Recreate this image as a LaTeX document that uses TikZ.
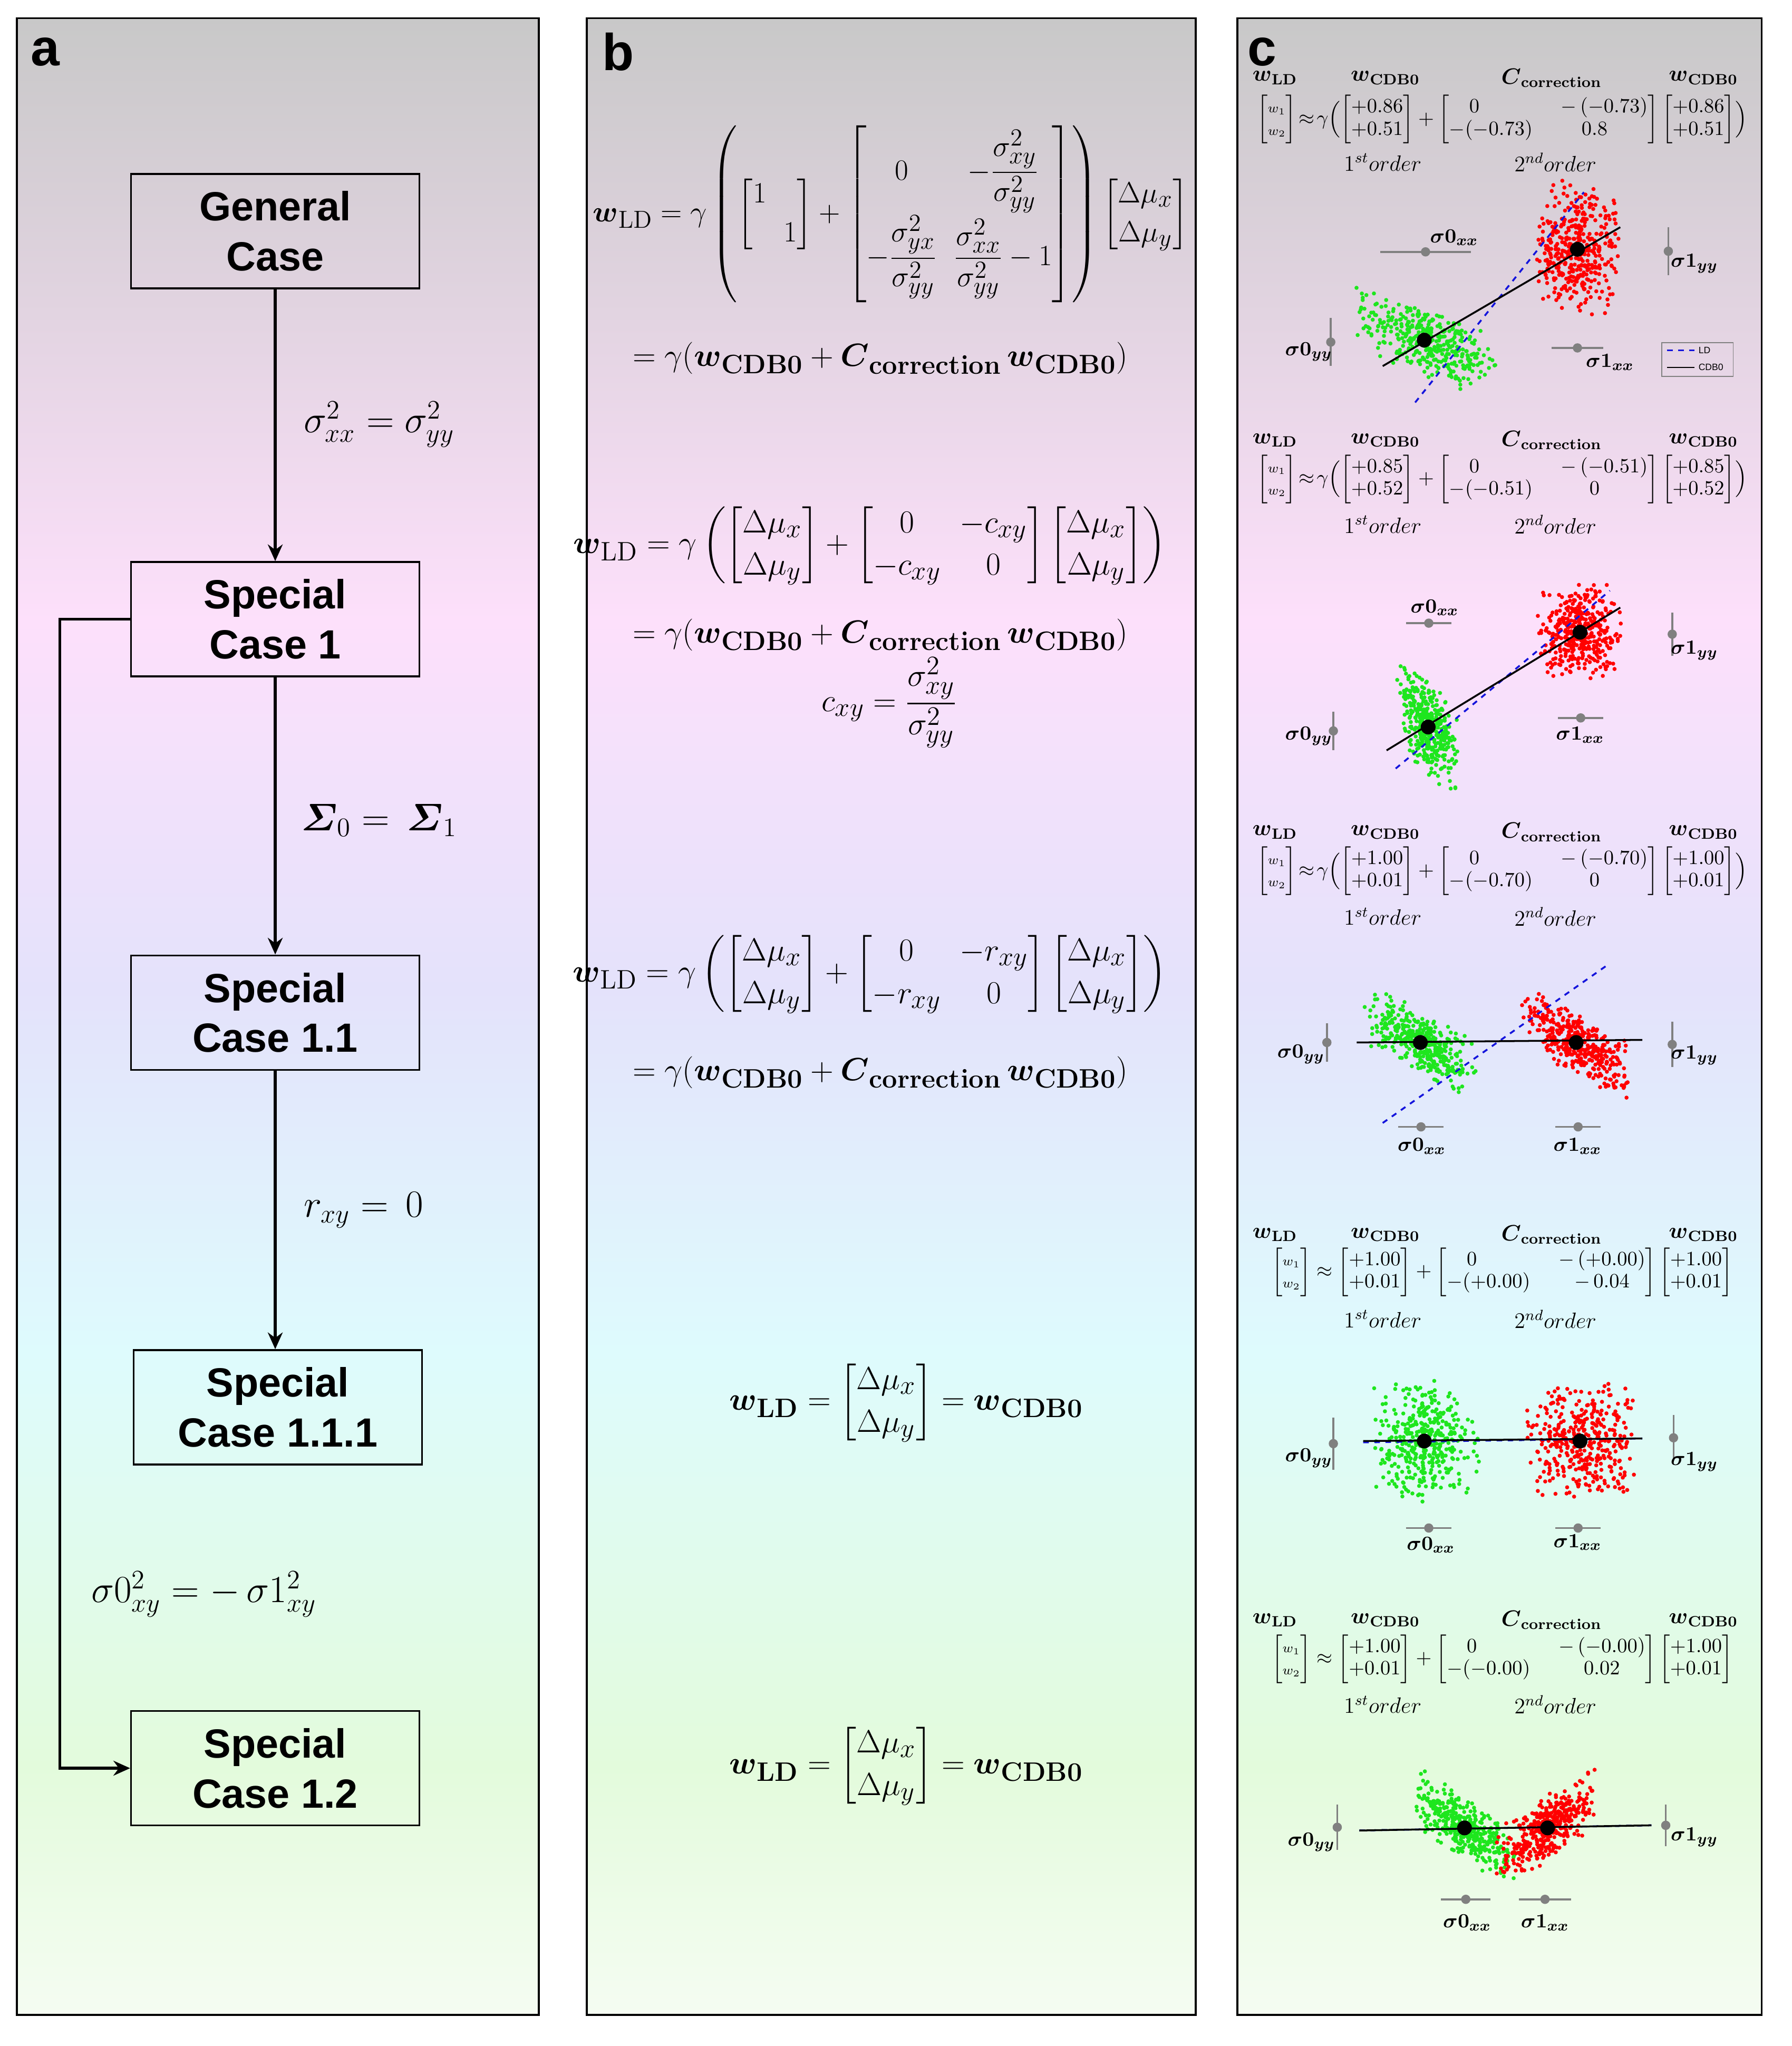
\documentclass[tikz,border=0pt]{standalone}
\usepackage{amsmath}
\usepackage[no-math]{fontspec}
\setmainfont{Liberation Sans}
\usetikzlibrary{positioning}
\usetikzlibrary{arrows.meta}

\definecolor{bgbot}{HTML}{F5FCF2}
\definecolor{bggreen}{HTML}{E3FBDC}
\definecolor{bgcyan}{HTML}{DEFBFD}
\definecolor{bglav}{HTML}{E4E2FB}
\definecolor{bgpink}{HTML}{FDE0FB}
\definecolor{bgtop}{HTML}{C8C8C8}
\definecolor{ptgreen}{RGB}{30,230,30}
\definecolor{ldblue}{RGB}{20,20,220}
\pgfdeclareverticalshading{panelbg}{100bp}{color(0bp)=(bgbot); color(25bp)=(bgbot); color(31.2bp)=(bggreen); color(41.6bp)=(bgcyan); color(50.7bp)=(bglav); color(59.9bp)=(bgpink); color(75bp)=(bgtop); color(100bp)=(bgtop)}

\tikzset{
  panel/.style={draw, line width=1pt, shading=panelbg},
  box/.style={draw, line width=1pt, minimum width=5.47cm, minimum height=2.17cm, align=center, font=\bfseries\fontsize{22}{27}\selectfont},
  arrow/.style={line width=1.5pt, -{Stealth[length=9pt,width=8pt]}},
  plab/.style={font=\bfseries\fontsize{28}{32}\selectfont},
  cond/.style={font=\fontsize{22}{26}\selectfont},
  eqb/.style={font=\fontsize{19}{23}\selectfont},
  eqc/.style={font=\fontsize{10.5}{12}\selectfont, inner sep=0pt},
  hdr/.style={font=\fontsize{12}{14}\selectfont, inner sep=0pt},
  slab/.style={font=\fontsize{11}{13}\selectfont, inner sep=0pt},
  errbar/.style={gray, line width=1pt},
}

% x y sx sy rho colour n
\newcommand\cluster[7]{%
  \foreach \i in {1,...,#7}{%
    \pgfmathsetmacro\ua{rand+rand}%
    \pgfmathsetmacro\va{rand+rand}%
    \fill[#6] ({#1+#3*\ua},{#2+#4*((#5)*\ua+sqrt(1-(#5)*(#5))*\va)}) circle[radius=1.1pt];
  }}
\newcommand\errh[3]{\draw[errbar] (#1,#3) -- (#2,#3); \fill[gray] ({(#1+#2)/2},#3) circle[radius=2.5pt];}
\newcommand\errv[3]{\draw[errbar] (#1,#2) -- (#1,#3); \fill[gray] (#1,{(#2+#3)/2}) circle[radius=2.5pt];}
\newcommand\headers[1]{%
  \node[hdr] at (982,#1-2) {$\boldsymbol{w}_{\mathbf{LD}}$};
  \node[hdr] at (1067,#1-2) {$\boldsymbol{w}_{\mathbf{CDB0}}$};
  \node[hdr] at (1195,#1-2) {$\boldsymbol{C}_{\mathbf{correction}}$};
  \node[hdr] at (1312,#1-2) {$\boldsymbol{w}_{\mathbf{CDB0}}$};
  \node[hdr] at (1065,#1+63) {$1^{st}order$};
  \node[hdr] at (1198,#1+63) {$2^{nd}order$};}

\begin{document}
\begin{tikzpicture}[x=0.02463cm, y=-0.02463cm]
\pgfmathsetseed{7}
\useasboundingbox (0,0) rectangle (1380,1576);

% panels
\path[panel] (13,14) rectangle (415,1552);
\path[panel] (452,14) rectangle (921,1552);
\path[panel] (953,14) rectangle (1357,1552);
\node[plab] (la) at (35,40) {a};
\node[plab] (lb) at (476,40) {b};
\node[plab] (lc) at (972,40) {c};

% panel a
\node[box] (gen) at (212,178) {General\\Case};
\node[box] (sc1) at (212,477) {Special\\Case 1};
\node[box] (sc11) at (212,780) {Special\\Case 1.1};
\node[box] (sc111) at (214,1084) {Special\\Case 1.1.1};
\node[box] (sc12) at (212,1362) {Special\\Case 1.2};
\draw[arrow] (gen) -- (sc1);
\draw[arrow] (sc1) -- (sc11);
\draw[arrow] (sc11) -- (sc111.north -| sc11.south);
\draw[arrow] (sc1.west) -- ++(-54,0) |- (sc12.west);
\node[cond] (c1) at (292,327) {$\sigma_{xx}^2=\sigma_{yy}^2$};
\node[cond] (c2) at (292,632) {$\boldsymbol{\varSigma}_0=\,\boldsymbol{\varSigma}_1$};
\node[cond] (c3) at (280,932) {$r_{xy}=\,0$};
\node[cond] (c4) at (157,1228) {$\sigma0_{xy}^2=-\,\sigma1_{xy}^2$};

% panel b
\node[eqb, scale=0.92] (e1) at (686,165) {$\boldsymbol{w}_{\mathrm{LD}}=\gamma\left(\begin{bmatrix}1&\\&1\end{bmatrix}+\begin{bmatrix}0&-\dfrac{\sigma_{xy}^2}{\sigma_{yy}^2}\\[14pt]-\dfrac{\sigma_{yx}^2}{\sigma_{yy}^2}&\dfrac{\sigma_{xx}^2}{\sigma_{yy}^2}-1\end{bmatrix}\right)\begin{bmatrix}\Delta\mu_x\\\Delta\mu_y\end{bmatrix}$};
\node[eqb] (e1b) at (678,276) {$=\gamma(\boldsymbol{w}_{\mathbf{CDB0}}+\boldsymbol{C}_{\mathbf{correction}}\,\boldsymbol{w}_{\mathbf{CDB0}})$};
\node[eqb] (e2) at (670,420) {$\boldsymbol{w}_{\mathrm{LD}}=\gamma\left(\begin{bmatrix}\Delta\mu_x\\\Delta\mu_y\end{bmatrix}+\begin{bmatrix}0&-c_{xy}\\-c_{xy}&0\end{bmatrix}\begin{bmatrix}\Delta\mu_x\\\Delta\mu_y\end{bmatrix}\right)$};
\node[eqb] (e2b) at (678,489) {$=\gamma(\boldsymbol{w}_{\mathbf{CDB0}}+\boldsymbol{C}_{\mathbf{correction}}\,\boldsymbol{w}_{\mathbf{CDB0}})$};
\node[eqb] (e2c) at (685,541) {$c_{xy}=\dfrac{\sigma_{xy}^2}{\sigma_{yy}^2}$};
\node[eqb] (e3) at (670,750) {$\boldsymbol{w}_{\mathrm{LD}}=\gamma\left(\begin{bmatrix}\Delta\mu_x\\\Delta\mu_y\end{bmatrix}+\begin{bmatrix}0&-r_{xy}\\-r_{xy}&0\end{bmatrix}\begin{bmatrix}\Delta\mu_x\\\Delta\mu_y\end{bmatrix}\right)$};
\node[eqb] (e3b) at (678,826) {$=\gamma(\boldsymbol{w}_{\mathbf{CDB0}}+\boldsymbol{C}_{\mathbf{correction}}\,\boldsymbol{w}_{\mathbf{CDB0}})$};
\node[eqb] (e4) at (698,1080) {$\boldsymbol{w}_{\mathbf{LD}}=\begin{bmatrix}\Delta\mu_x\\\Delta\mu_y\end{bmatrix}=\boldsymbol{w}_{\mathbf{CDB0}}$};
\node[eqb] (e5) at (698,1360) {$\boldsymbol{w}_{\mathbf{LD}}=\begin{bmatrix}\Delta\mu_x\\\Delta\mu_y\end{bmatrix}=\boldsymbol{w}_{\mathbf{CDB0}}$};

% panel c, plot 1
\headers{62}
\node[eqc] (q1) at (1157,92) {$\begin{bmatrix}\scriptstyle w_1\\\scriptstyle w_2\end{bmatrix}\!\approx\!\gamma\Bigl(\begin{bmatrix}+0.86\\+0.51\end{bmatrix}+\begin{bmatrix}\;0\hspace{2.5em}&-\,(-0.73)\\-(-0.73)\hspace{0.5em}&0.8\hspace{1em}\end{bmatrix}\begin{bmatrix}+0.86\\+0.51\end{bmatrix}\Bigr)$};
\cluster{1097}{262}{30}{18}{0.6}{ptgreen}{400}
\cluster{1215}{192}{17}{28}{0}{red}{400}
\draw[ldblue, dashed, line width=1pt] (1090,310) -- (1220,148);
\draw[line width=1pt] (1065,282) -- (1248,175);
\fill (1097,262) circle[radius=4pt]; \fill (1215,192) circle[radius=4pt];
\errh{1063}{1133}{194} \node[slab] at (1120,183) {$\boldsymbol{\sigma0_{xx}}$};
\errv{1285}{175}{212} \node[slab] at (1305,203) {$\boldsymbol{\sigma1_{yy}}$};
\errv{1025}{245}{282} \node[slab] at (1008,271) {$\boldsymbol{\sigma0_{yy}}$};
\errh{1195}{1235}{268} \node[slab] at (1240,279) {$\boldsymbol{\sigma1_{xx}}$};
\draw[gray, line width=0.5pt] (1280,264) rectangle (1335,290);
\draw[ldblue, dashed, line width=0.8pt] (1284,270) -- (1305,270);
\draw[line width=0.8pt] (1284,283) -- (1305,283);
\node[font=\fontsize{5}{6}\selectfont, inner sep=0pt, anchor=west] at (1308,270) {LD};
\node[font=\fontsize{5}{6}\selectfont, inner sep=0pt, anchor=west] at (1308,283) {CDB0};

% plot 2
\headers{341}
\node[eqc] (q2) at (1157,369) {$\begin{bmatrix}\scriptstyle w_1\\\scriptstyle w_2\end{bmatrix}\!\approx\!\gamma\Bigl(\begin{bmatrix}+0.85\\+0.52\end{bmatrix}+\begin{bmatrix}\;0\hspace{2.5em}&-\,(-0.51)\\-(-0.51)\hspace{0.5em}&0\hspace{1em}\end{bmatrix}\begin{bmatrix}+0.85\\+0.52\end{bmatrix}\Bigr)$};
\cluster{1100}{560}{12}{22}{0.5}{ptgreen}{400}
\cluster{1217}{487}{17}{20}{0}{red}{400}
\draw[ldblue, dashed, line width=1pt] (1075,592) -- (1240,455);
\draw[line width=1pt] (1068,578) -- (1248,468);
\fill (1100,560) circle[radius=4pt]; \fill (1217,487) circle[radius=4pt];
\errh{1083}{1118}{480} \node[slab] at (1105,468) {$\boldsymbol{\sigma0_{xx}}$};
\errv{1288}{472}{505} \node[slab] at (1305,501) {$\boldsymbol{\sigma1_{yy}}$};
\errv{1027}{548}{578} \node[slab] at (1008,567) {$\boldsymbol{\sigma0_{yy}}$};
\errh{1200}{1235}{553} \node[slab] at (1217,566) {$\boldsymbol{\sigma1_{xx}}$};

% plot 3
\headers{643}
\node[eqc] (q3) at (1157,671) {$\begin{bmatrix}\scriptstyle w_1\\\scriptstyle w_2\end{bmatrix}\!\approx\!\gamma\Bigl(\begin{bmatrix}+1.00\\+0.01\end{bmatrix}+\begin{bmatrix}\;0\hspace{2.5em}&-\,(-0.70)\\-(-0.70)\hspace{0.5em}&0\hspace{1em}\end{bmatrix}\begin{bmatrix}+1.00\\+0.01\end{bmatrix}\Bigr)$};
\cluster{1094}{803}{22}{18}{0.7}{ptgreen}{400}
\cluster{1214}{803}{22}{18}{0.7}{red}{400}
\draw[ldblue, dashed, line width=1pt] (1065,865) -- (1240,742);
\draw[line width=1pt] (1045,803) -- (1265,801);
\fill (1094,803) circle[radius=4pt]; \fill (1214,803) circle[radius=4pt];
\errv{1022}{788}{818} \node[slab] at (1002,812) {$\boldsymbol{\sigma0_{yy}}$};
\errv{1288}{787}{822} \node[slab] at (1305,813) {$\boldsymbol{\sigma1_{yy}}$};
\errh{1077}{1112}{868} \node[slab] at (1095,883) {$\boldsymbol{\sigma0_{xx}}$};
\errh{1198}{1233}{868} \node[slab] at (1215,883) {$\boldsymbol{\sigma1_{xx}}$};

% plot 4
\headers{953}
\node[eqc] (q4) at (1157,980) {$\begin{bmatrix}\scriptstyle w_1\\\scriptstyle w_2\end{bmatrix}\approx\begin{bmatrix}+1.00\\+0.01\end{bmatrix}+\begin{bmatrix}\;0\hspace{2.5em}&-\,(+0.00)\\-(+0.00)\hspace{0.5em}&-\,0.04\end{bmatrix}\begin{bmatrix}+1.00\\+0.01\end{bmatrix}$};
\cluster{1097}{1110}{22}{24}{0}{ptgreen}{400}
\cluster{1217}{1110}{22}{24}{0}{red}{400}
\draw[ldblue, dashed, line width=1pt] (1050,1111) -- (1265,1108);
\draw[line width=1pt] (1050,1110) -- (1265,1108);
\fill (1097,1110) circle[radius=4pt]; \fill (1217,1110) circle[radius=4pt];
\errv{1027}{1092}{1132} \node[slab] at (1008,1123) {$\boldsymbol{\sigma0_{yy}}$};
\errv{1289}{1090}{1125} \node[slab] at (1305,1126) {$\boldsymbol{\sigma1_{yy}}$};
\errh{1083}{1118}{1177} \node[slab] at (1102,1190) {$\boldsymbol{\sigma0_{xx}}$};
\errh{1198}{1233}{1177} \node[slab] at (1215,1188) {$\boldsymbol{\sigma1_{xx}}$};

% plot 5
\headers{1250}
\node[eqc] (q5) at (1157,1278) {$\begin{bmatrix}\scriptstyle w_1\\\scriptstyle w_2\end{bmatrix}\approx\begin{bmatrix}+1.00\\+0.01\end{bmatrix}+\begin{bmatrix}\;0\hspace{2.5em}&-\,(-0.00)\\-(-0.00)\hspace{0.5em}&0.02\end{bmatrix}\begin{bmatrix}+1.00\\+0.01\end{bmatrix}$};
\cluster{1128}{1408}{20}{18}{0.7}{ptgreen}{400}
\cluster{1192}{1408}{20}{18}{-0.7}{red}{400}
\draw[ldblue, dashed, line width=1pt] (1047,1410) -- (1272,1406);
\draw[line width=1pt] (1047,1410) -- (1272,1406);
\fill (1128,1408) circle[radius=4pt]; \fill (1192,1408) circle[radius=4pt];
\errv{1030}{1390}{1425} \node[slab] at (1010,1419) {$\boldsymbol{\sigma0_{yy}}$};
\errv{1283}{1390}{1422} \node[slab] at (1305,1415) {$\boldsymbol{\sigma1_{yy}}$};
\errh{1110}{1148}{1463} \node[slab] at (1130,1481) {$\boldsymbol{\sigma0_{xx}}$};
\errh{1170}{1210}{1463} \node[slab] at (1190,1481) {$\boldsymbol{\sigma1_{xx}}$};
\end{tikzpicture}
\end{document}
